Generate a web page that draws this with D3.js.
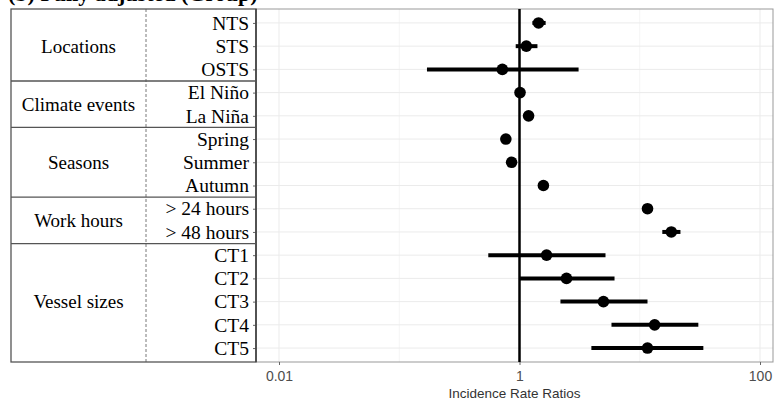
<!DOCTYPE html>
<html>
<head>
<meta charset="utf-8">
<script src="https://cdn.jsdelivr.net/npm/d3@7"></script>
<style>
  body { margin: 0; background: #fff; }
  svg { display: block; }
</style>
</head>
<body>
<svg id="chart"></svg>
<script>
const labels = ["NTS", "STS", "OSTS", "El Niño", "La Niña", "Spring", "Summer", "Autumn",
  "> 24 hours", "> 48 hours", "CT1", "CT2", "CT3", "CT4", "CT5"];
const irr  = [1.44, 1.14, 0.72, 1.01, 1.19, 0.77, 0.86, 1.58, 11.6, 18.3, 1.68, 2.46, 4.99, 13.3, 11.6];
const low  = [1.28, 0.93, 0.17, 0.98, 1.12, 0.73, 0.82, 1.50, 11.0, 15.4, 0.55, 1.01, 2.19, 5.82, 3.96];
const high = [1.65, 1.41, 3.10, 1.04, 1.27, 0.82, 0.90, 1.67, 12.2, 21.8, 5.19, 6.17, 11.6, 30.7, 33.8];
const groups = ["Locations", "Climate events", "Seasons", "Work hours", "Vessel sizes"];
const groupSize = [3, 2, 3, 2, 5];
const xTicks = [0.01, 1, 100];
const xMinor = [0.1, 10];

const width = 774, height = 402;
const panel = { left: 256, right: 773, top: 9, bottom: 362 };
const tableLeft = 11, dashX = 146;

const svg = d3.select("#chart").attr("width", width).attr("height", height);

//title (cut off at top, as in the source figure)
svg.append("text")
  .attr("x", 8).attr("y", 1)
  .style("font-family", "'Liberation Serif', 'Times New Roman', serif")
  .style("font-weight", "bold")
  .style("font-size", "22px")
  .text("(b) Fully adjusted (Group)");

//scales
const x = d3.scaleLog()
  .domain([0.01, 100])
  .range([279, 760]);
const y = d3.scalePoint()
  .domain(labels)
  .range([panel.top, panel.bottom])
  .padding(0.6);

//grid
svg.append("g").selectAll("line")
  .data(xMinor).enter().append("line")
  .attr("x1", d => x(d)).attr("x2", d => x(d))
  .attr("y1", panel.top).attr("y2", panel.bottom)
  .style("stroke", "#f2f2f2").style("stroke-width", 0.8);
svg.append("g").selectAll("line")
  .data(labels).enter().append("line")
  .attr("x1", panel.left).attr("x2", panel.right)
  .attr("y1", d => y(d)).attr("y2", d => y(d))
  .style("stroke", "#ebebeb").style("stroke-width", 1);
svg.append("g").selectAll("line")
  .data(xTicks).enter().append("line")
  .attr("x1", d => x(d)).attr("x2", d => x(d))
  .attr("y1", panel.top).attr("y2", panel.bottom)
  .style("stroke", "#ebebeb").style("stroke-width", 1);

//panel border
svg.append("rect")
  .attr("x", panel.left).attr("y", panel.top)
  .attr("width", panel.right - panel.left).attr("height", panel.bottom - panel.top)
  .style("fill", "none").style("stroke", "#999").style("stroke-width", 1);

//reference line at 1
svg.append("line")
  .attr("x1", x(1)).attr("x2", x(1))
  .attr("y1", panel.top).attr("y2", panel.bottom)
  .style("stroke", "#000").style("stroke-width", 2.5);

//error bars and points
const rows = labels.map((d, i) => ({ label: d, irr: irr[i], low: low[i], high: high[i] }));
svg.append("g").selectAll("line")
  .data(rows).enter().append("line")
  .attr("x1", d => x(d.low)).attr("x2", d => x(d.high))
  .attr("y1", d => y(d.label)).attr("y2", d => y(d.label))
  .style("stroke", "#000").style("stroke-width", 4);
svg.append("g").selectAll("circle")
  .data(rows).enter().append("circle")
  .attr("cx", d => x(d.irr)).attr("cy", d => y(d.label))
  .attr("r", 5.8)
  .style("fill", "#000");

//x axis
const xAxis = d3.axisBottom(x)
  .tickValues(xTicks)
  .tickFormat(d => d3.format("")(d))
  .tickSizeInner(3).tickSizeOuter(0).tickPadding(6);
const gx = svg.append("g")
  .attr("transform", `translate(0, ${panel.bottom})`)
  .call(xAxis);
gx.select(".domain").remove();
gx.selectAll("line").style("stroke", "#666");
gx.selectAll("text")
  .style("font-family", "'Liberation Sans', Arial, sans-serif")
  .style("font-size", "14px")
  .style("fill", "#4d4d4d");

svg.append("text")
  .attr("x", (panel.left + panel.right) / 2).attr("y", 398)
  .attr("text-anchor", "middle")
  .style("font-family", "'Liberation Sans', Arial, sans-serif")
  .style("font-size", "13.5px")
  .style("fill", "#333")
  .text("Incidence Rate Ratios");

//y axis (labels in the table)
const yAxis = d3.axisLeft(y)
  .tickSizeInner(3).tickSizeOuter(0).tickPadding(4);
const gy = svg.append("g")
  .attr("transform", `translate(${panel.left}, 0)`)
  .call(yAxis);
gy.select(".domain").remove();
gy.selectAll("line").style("stroke", "#666");
gy.selectAll("text")
  .style("font-family", "'Liberation Serif', 'Times New Roman', serif")
  .style("font-size", "19.5px")
  .style("fill", "#000");

//table
const step = y.step();
let start = 0;
const groupRows = groups.map((g, i) => {
  const first = labels[start];
  const last = labels[start + groupSize[i] - 1];
  start += groupSize[i];
  return { name: g, y0: y(first) - step / 2, y1: y(last) + step / 2 };
});

svg.append("rect")
  .attr("x", tableLeft).attr("y", panel.top)
  .attr("width", panel.left - tableLeft).attr("height", panel.bottom - panel.top)
  .style("fill", "none").style("stroke", "#555").style("stroke-width", 1.3);
svg.append("line")
  .attr("x1", panel.left).attr("x2", panel.left)
  .attr("y1", panel.top).attr("y2", panel.bottom)
  .style("stroke", "#444").style("stroke-width", 1.5);
svg.append("line")
  .attr("x1", dashX).attr("x2", dashX)
  .attr("y1", panel.top).attr("y2", panel.bottom)
  .style("stroke", "#555").style("stroke-width", 0.8)
  .style("stroke-dasharray", "3,2");
svg.append("g").selectAll("line")
  .data(groupRows.slice(1)).enter().append("line")
  .attr("x1", tableLeft).attr("x2", panel.left)
  .attr("y1", d => d.y0).attr("y2", d => d.y0)
  .style("stroke", "#555").style("stroke-width", 1.3);
svg.append("g").selectAll("text")
  .data(groupRows).enter().append("text")
  .attr("x", (tableLeft + dashX) / 2)
  .attr("y", d => (d.y0 + d.y1) / 2)
  .attr("dy", "0.35em")
  .attr("text-anchor", "middle")
  .style("font-family", "'Liberation Serif', 'Times New Roman', serif")
  .style("font-size", "19px")
  .text(d => d.name);
</script>
</body>
</html>
